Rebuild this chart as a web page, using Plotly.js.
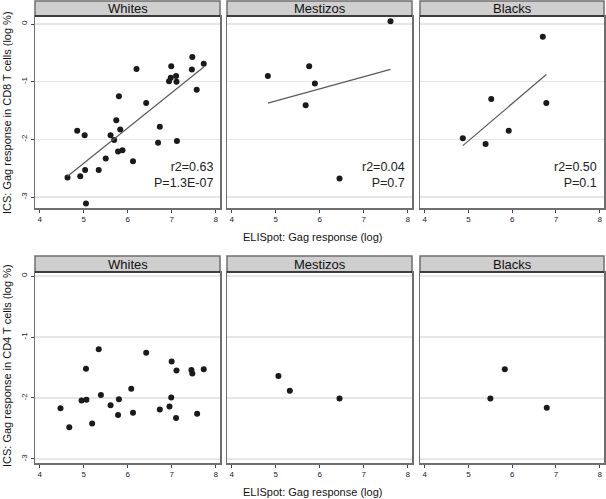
<!DOCTYPE html>
<html>
<head>
<meta charset="utf-8">
<script src="https://cdn.plot.ly/plotly-3.0.1.min.js"></script>
<style>html,body{margin:0;padding:0;background:#fff;}#chart{width:606px;height:499px;}</style>
</head>
<body>
<div id="chart"></div>
<script>
// ---- data ----
const groups = ["Whites", "Mestizos", "Blacks"];

// CD8 (top row)
const cd8WhitesX = [4.63,4.85,4.92,5.02,5.03,5.05,5.34,5.50,5.61,5.69,5.74,5.78,5.80,5.83,5.88,6.12,6.20,6.42,6.69,6.73,6.94,6.98,6.99,7.10,7.11,7.12,7.46,7.47,7.57,7.73];
const cd8WhitesY = [-2.66,-1.85,-2.64,-1.93,-2.53,-3.11,-2.53,-2.33,-1.93,-2.01,-1.67,-2.21,-1.25,-1.83,-2.19,-2.38,-0.78,-1.37,-2.06,-1.78,-0.99,-0.93,-0.73,-0.90,-1.00,-2.03,-0.79,-0.57,-1.14,-0.69];
const cd8MestizosX = [4.82,5.68,5.76,5.89,6.45,7.61];
const cd8MestizosY = [-0.90,-1.41,-0.73,-1.03,-2.68,0.05];
const cd8BlacksX = [4.87,5.39,5.52,5.92,6.70,6.78];
const cd8BlacksY = [-1.98,-2.08,-1.30,-1.85,-0.22,-1.37];
const cd8Stats = ["r2=0.63<br>P=1.3E-07", "r2=0.04<br>P=0.7", "r2=0.50<br>P=0.1"];

// CD4 (bottom row)
const cd4WhitesX = [4.47,4.67,4.95,5.06,5.05,5.19,5.34,5.39,5.61,5.78,5.80,6.08,6.12,6.42,6.73,6.95,6.99,7.00,7.10,7.11,7.45,7.47,7.58,7.73];
const cd4WhitesY = [-2.17,-2.48,-2.04,-2.03,-1.52,-2.42,-1.20,-1.95,-2.12,-2.28,-2.02,-1.85,-2.24,-1.26,-2.19,-2.14,-1.99,-1.40,-2.33,-1.55,-1.54,-1.60,-2.26,-1.53];
const cd4MestizosX = [5.06,5.32,6.45];
const cd4MestizosY = [-1.64,-1.88,-2.01];
const cd4BlacksX = [5.50,5.83,6.79];
const cd4BlacksY = [-2.01,-1.53,-2.16];

const xTicks = [4,5,6,7,8];
const yTicks = [-3,-2,-1,0];

const xTitle = "ELISpot: Gag response (log)";
const yTitleCD8 = "ICS: Gag response in CD8 T cells (log %)";
const yTitleCD4 = "ICS: Gag response in CD4 T cells (log %)";

// ---- geometry ----
const W = 606, H = 499;
const FONT = "Liberation Sans, Arial, sans-serif";
const colPx = [[35,220],[227,412],[420,604]];
const rowPx = [{strip:[1,16], plot:[16,208], yr:[-3.19,0.14]},
               {strip:[256,272], plot:[272,463], yr:[-3.066,0.066]}];
const px2x = p => p / W;
const px2y = p => 1 - p / H;

function ols(x, y) {
  const n = x.length;
  const mx = x.reduce((a,b)=>a+b,0)/n, my = y.reduce((a,b)=>a+b,0)/n;
  let sxy = 0, sxx = 0;
  for (let i=0;i<n;i++){ sxy += (x[i]-mx)*(y[i]-my); sxx += (x[i]-mx)**2; }
  const b = sxy/sxx, a = my - b*mx;
  const x0 = Math.min(...x), x1 = Math.max(...x);
  return {x:[x0,x1], y:[a+b*x0, a+b*x1]};
}

const rows = [
  [[cd8WhitesX,cd8WhitesY],[cd8MestizosX,cd8MestizosY],[cd8BlacksX,cd8BlacksY]],
  [[cd4WhitesX,cd4WhitesY],[cd4MestizosX,cd4MestizosY],[cd4BlacksX,cd4BlacksY]]
];

const traces = [];
const layout = {
  width: W, height: H,
  margin: {l:0,r:0,t:0,b:0},
  paper_bgcolor: "#ffffff",
  plot_bgcolor: "#ffffff",
  showlegend: false,
  font: {family: FONT, color: "#000"},
  shapes: [], annotations: []
};

let k = 0;
for (let r=0;r<2;r++){
  for (let c=0;c<3;c++){
    k++;
    const xa = "x" + (k===1?"":k), ya = "y" + (k===1?"":k);
    const xKey = "xaxis" + (k===1?"":k), yKey = "yaxis" + (k===1?"":k);
    const [dx, dy] = rows[r][c];
    traces.push({type:"scatter", mode:"markers", x:dx, y:dy, xaxis:xa, yaxis:ya,
      marker:{size:6, color:"#1a1a1a"}, hoverinfo:"x+y"});
    if (r===0){
      const f = ols(dx, dy);
      traces.push({type:"scatter", mode:"lines", x:f.x, y:f.y, xaxis:xa, yaxis:ya,
        line:{color:"#5a5a5a", width:1.2}, hoverinfo:"skip"});
      layout.annotations.push({xref:xa+" domain", yref:ya+" domain", x:0.975, y:0.085,
        xanchor:"right", yanchor:"bottom", align:"right", showarrow:false,
        text: cd8Stats[c], font:{size:12.5, family:FONT, color:"#222"}});
    }
    const rp = rowPx[r], cp = colPx[c];
    layout[xKey] = {
      domain:[px2x(cp[0]), px2x(cp[1])], anchor: ya, range:[3.89, 8.1],
      tickvals: xTicks, ticktext: xTicks.map(String), ticks:"outside", ticklen:3, tickwidth:1,
      tickcolor:"#444", tickfont:{size:8, family:FONT, color:"#222"},
      showgrid:false, zeroline:false, showline:true, mirror:true,
      linecolor:"#6f6f6f", linewidth:1.5, fixedrange:true
    };
    layout[yKey] = {
      domain:[px2y(rp.plot[1]), px2y(rp.plot[0])], anchor: xa, range: rp.yr,
      tickvals: yTicks, ticktext: yTicks.map(String),
      ticks: c===0 ? "outside" : "", ticklen:3, tickwidth:1, tickcolor:"#444",
      showticklabels: c===0, tickangle:-90, tickfont:{size:8, family:FONT, color:"#222"},
      showgrid:true, gridcolor:"#e6e6e6", gridwidth:1.5, zeroline:false,
      showline:true, mirror:true, linecolor:"#6f6f6f", linewidth:1.5, fixedrange:true
    };
    // strip
    layout.shapes.push({type:"rect", xref:"paper", yref:"paper",
      x0:px2x(cp[0]), x1:px2x(cp[1]), y0:px2y(rp.strip[1]), y1:px2y(rp.strip[0]),
      fillcolor:"#cfcfcf", line:{color:"#6f6f6f", width:1.5}, layer:"above"});
    layout.shapes.push({type:"line", xref:"paper", yref:"paper",
      x0:px2x(cp[0]), x1:px2x(cp[1]), y0:px2y(rp.strip[1]), y1:px2y(rp.strip[1]),
      line:{color:"#222", width:1.5}, layer:"above"});
    layout.annotations.push({xref:"paper", yref:"paper",
      x:px2x((cp[0]+cp[1])/2), y:px2y((rp.strip[0]+rp.strip[1])/2),
      xanchor:"center", yanchor:"middle", showarrow:false,
      text: groups[c], font:{size:13, family:FONT, color:"#111"}});
  }
}

// axis titles
layout.annotations.push({xref:"paper", yref:"paper", x:px2x(312), y:px2y(237),
  xanchor:"center", yanchor:"middle", showarrow:false, text:xTitle,
  font:{size:11, family:FONT, color:"#111"}});
layout.annotations.push({xref:"paper", yref:"paper", x:px2x(312), y:px2y(492),
  xanchor:"center", yanchor:"middle", showarrow:false, text:xTitle,
  font:{size:11, family:FONT, color:"#111"}});
layout.annotations.push({xref:"paper", yref:"paper", x:px2x(7), y:px2y(113),
  xanchor:"center", yanchor:"middle", showarrow:false, textangle:-90, text:yTitleCD8,
  font:{size:11, family:FONT, color:"#111"}});
layout.annotations.push({xref:"paper", yref:"paper", x:px2x(7), y:px2y(366),
  xanchor:"center", yanchor:"middle", showarrow:false, textangle:-90, text:yTitleCD4,
  font:{size:11, family:FONT, color:"#111"}});

Plotly.newPlot("chart", traces, layout, {displayModeBar:false, staticPlot:true});
</script>
</body>
</html>
